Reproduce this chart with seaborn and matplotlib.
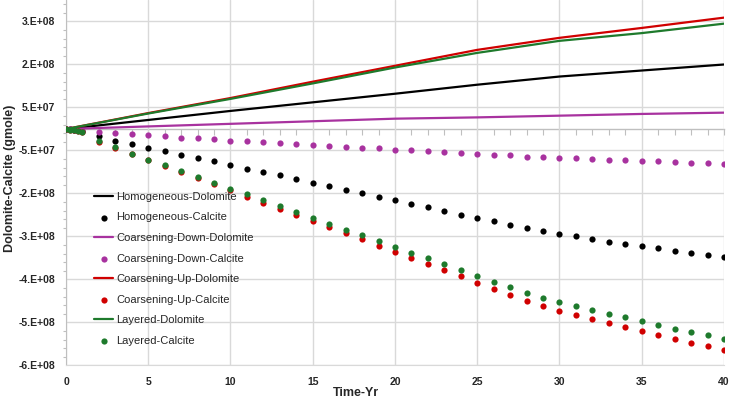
import numpy as np
import pandas as pd
import seaborn as sns
import matplotlib.pyplot as plt
from matplotlib.ticker import FixedLocator, AutoMinorLocator, MultipleLocator, FuncFormatter

# dolomite (lines), values in 1e8 gmole
line_years = [0, 5, 10, 15, 20, 25, 30, 35, 40]
homog_dol = [0, 0.21, 0.42, 0.62, 0.82, 1.03, 1.22, 1.36, 1.50]
cdown_dol = [0, 0.06, 0.12, 0.18, 0.24, 0.27, 0.31, 0.35, 0.38]
cup_dol = [0, 0.37, 0.72, 1.10, 1.47, 1.84, 2.12, 2.35, 2.59]
layer_dol = [0, 0.36, 0.70, 1.06, 1.43, 1.77, 2.05, 2.23, 2.45]

# calcite (dots), values in 1e8 gmole
dot_years = [0, 0.25, 0.5, 0.75, 1.0] + list(range(2, 41))
homog_cal = [0, -0.01, -0.02, -0.03, -0.05,
             -0.17, -0.27, -0.35, -0.44, -0.52, -0.60, -0.68, -0.75, -0.83, -0.92,
             -1.00, -1.08, -1.16, -1.25, -1.33, -1.41, -1.49, -1.57, -1.66, -1.74,
             -1.82, -1.91, -1.99, -2.07, -2.15, -2.23, -2.31, -2.38, -2.45, -2.50,
             -2.56, -2.62, -2.67, -2.72, -2.77, -2.83, -2.88, -2.93, -2.98]
cdown_cal = [0, -0.01, -0.02, -0.03, -0.04,
             -0.07, -0.10, -0.12, -0.14, -0.17, -0.20, -0.22, -0.24, -0.27, -0.29,
             -0.31, -0.33, -0.34, -0.37, -0.39, -0.41, -0.44, -0.45, -0.48, -0.50,
             -0.52, -0.54, -0.56, -0.58, -0.60, -0.61, -0.64, -0.65, -0.67, -0.68,
             -0.70, -0.72, -0.73, -0.74, -0.75, -0.77, -0.78, -0.79, -0.81]
cup_cal = [0, -0.02, -0.03, -0.05, -0.07,
           -0.30, -0.44, -0.58, -0.72, -0.86, -1.00, -1.14, -1.28, -1.43, -1.57,
           -1.71, -1.85, -1.99, -2.13, -2.28, -2.42, -2.56, -2.71, -2.85, -2.99,
           -3.14, -3.28, -3.43, -3.58, -3.72, -3.86, -4.00, -4.12, -4.23, -4.33,
           -4.42, -4.51, -4.61, -4.70, -4.79, -4.88, -4.97, -5.05, -5.15]
layer_cal = [0, -0.02, -0.03, -0.05, -0.07,
             -0.29, -0.43, -0.57, -0.71, -0.84, -0.97, -1.11, -1.25, -1.39, -1.52,
             -1.66, -1.80, -1.93, -2.06, -2.20, -2.34, -2.47, -2.61, -2.74, -2.88,
             -3.01, -3.15, -3.28, -3.42, -3.55, -3.68, -3.81, -3.93, -4.02, -4.12,
             -4.20, -4.30, -4.38, -4.47, -4.55, -4.64, -4.72, -4.80, -4.88]

y_ticks = [-5.5e8, -4.5e8, -3.5e8, -2.5e8, -1.5e8, -0.5e8, 0.5e8, 1.5e8, 2.5e8]
x_ticks = [0, 5, 10, 15, 20, 25, 30, 35, 40]

series = [
    ('Homogeneous', homog_dol, homog_cal, '#000000'),
    ('Coarsening-Down', cdown_dol, cdown_cal, '#a8329f'),
    ('Coarsening-Up', cup_dol, cup_cal, '#d00000'),
    ('Layered', layer_dol, layer_cal, '#1e7a2c'),
]


def excel_sci(v, pos):
    # Excel "0.E+00" style, rounding half away from zero
    if v == 0:
        return '0.E+00'
    e = int(np.floor(np.log10(abs(v))))
    m = int(np.floor(abs(v) / 10 ** e + 0.5))
    if m == 10:
        m, e = 1, e + 1
    sign = '-' if v < 0 else ''
    return f'{sign}{m}.E+{e:02d}'


def main():
    sns.set_style('white')
    plt.rcParams['font.family'] = ['Liberation Sans', 'DejaVu Sans']

    fig, ax = plt.subplots(figsize=(7.5, 4.09), dpi=100)
    fig.subplots_adjust(left=0.088, right=0.9653, top=1.0, bottom=0.1064)

    for name, dol, cal, color in series:
        sns.lineplot(x=line_years, y=np.array(dol) * 1e8, color=color, lw=1.6,
                     label=f'{name}-Dolomite', ax=ax, zorder=3)
        sns.scatterplot(x=dot_years, y=np.array(cal) * 1e8, color=color, s=20,
                        linewidth=0, label=f'{name}-Calcite', ax=ax, zorder=3)

    ax.set_xlim(0, 40)
    ax.set_ylim(-5.5e8, 3e8)
    ax.xaxis.set_major_locator(FixedLocator(x_ticks))
    ax.yaxis.set_major_locator(FixedLocator(y_ticks))
    ax.yaxis.set_minor_locator(AutoMinorLocator(5))
    ax.yaxis.set_major_formatter(FuncFormatter(excel_sci))

    ax.grid(True, which='major', color='#d9d9d9', lw=1)
    ax.set_axisbelow(True)
    for s in ['top', 'right']:
        ax.spines[s].set_visible(False)
    ax.spines['bottom'].set_color('#d9d9d9')
    ax.spines['left'].set_color('#bfbfbf')

    ax.tick_params(axis='x', length=0, pad=8, labelsize=7.5)
    ax.tick_params(axis='y', which='major', length=3, width=0.8, color='#bfbfbf', pad=5, labelsize=7.5)
    ax.tick_params(axis='y', which='minor', length=2.5, width=0.8, color='#bfbfbf', left=True)
    for lab in ax.get_xticklabels() + ax.get_yticklabels():
        lab.set_fontweight('bold')

    # horizontal axis crossing at zero with yearly minor ticks
    sec = ax.secondary_xaxis(0, transform=ax.transData)
    sec.xaxis.set_major_locator(MultipleLocator(1))
    sec.tick_params(axis='x', length=4, width=0.8, color='#bfbfbf', direction='out', labelbottom=False)
    sec.spines['bottom'].set_color('#bfbfbf')
    sec.spines['bottom'].set_linewidth(1)

    ax.set_xlabel('Time-Yr', fontsize=9, fontweight='bold')
    ax.xaxis.set_label_coords(0.4407, -0.058)
    ax.set_ylabel('Dolomite-Calcite (gmole)', fontsize=9, fontweight='bold')
    ax.yaxis.set_label_coords(-0.076, 0.513)

    ax.legend(loc='upper left', bbox_to_anchor=(0.0426, 0.475), frameon=False,
              fontsize=8, borderpad=0, handlelength=1.75, handletextpad=0.25,
              labelspacing=0.95, borderaxespad=0)

    fig.savefig('out.png', dpi=100)


if __name__ == '__main__':
    main()
